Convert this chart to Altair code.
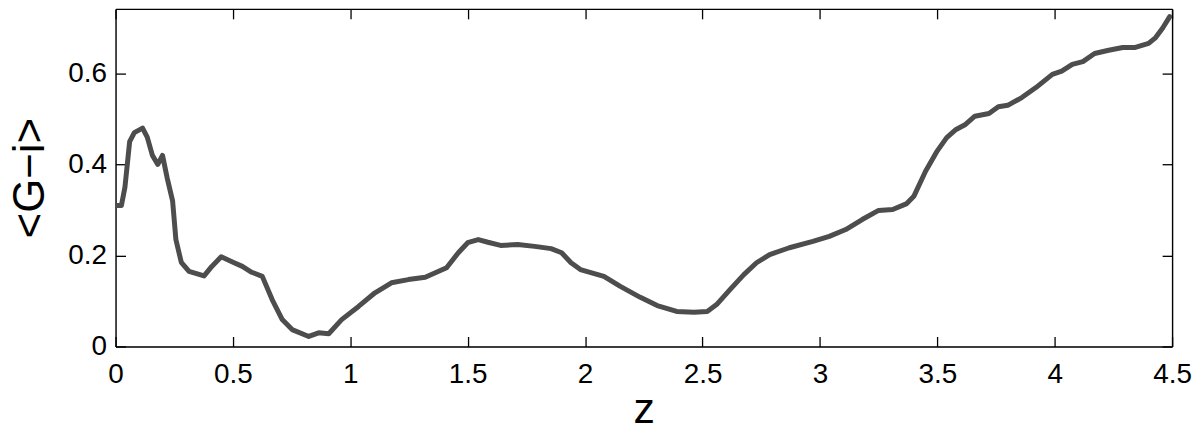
import altair as alt
import pandas as pd

z_vals = [0.00, 0.025, 0.04, 0.06, 0.08, 0.115, 0.135, 0.157, 0.18, 0.20, 0.22, 0.243, 0.257, 0.28,
          0.313, 0.377, 0.41, 0.45, 0.505, 0.54, 0.58, 0.625, 0.667, 0.71, 0.752, 0.823, 0.865, 0.908,
          0.963, 1.035, 1.105, 1.175, 1.247, 1.319, 1.41, 1.46, 1.50, 1.545, 1.586, 1.64, 1.713, 1.785,
          1.855, 1.90, 1.94, 1.98, 2.08, 2.15, 2.235, 2.307, 2.39, 2.464, 2.52, 2.56, 2.617, 2.676,
          2.73, 2.786, 2.87, 2.97, 3.04, 3.11, 3.18, 3.25, 3.31, 3.37, 3.40, 3.45, 3.50, 3.54, 3.58,
          3.62, 3.66, 3.72, 3.76, 3.80, 3.86, 3.92, 3.99, 4.03, 4.075, 4.12, 4.17, 4.23, 4.29, 4.34,
          4.40, 4.43, 4.46, 4.49]
g_vals = [0.31, 0.31, 0.35, 0.45, 0.47, 0.48, 0.46, 0.42, 0.40, 0.42, 0.37, 0.32, 0.235, 0.185,
          0.165, 0.155, 0.176, 0.197, 0.184, 0.176, 0.163, 0.154, 0.103, 0.059, 0.037, 0.022, 0.030, 0.028,
          0.059, 0.088, 0.118, 0.140, 0.147, 0.152, 0.173, 0.206, 0.228, 0.235, 0.229, 0.222, 0.224, 0.220,
          0.215, 0.206, 0.184, 0.169, 0.154, 0.132, 0.108, 0.090, 0.077, 0.075, 0.077, 0.092, 0.125, 0.158,
          0.184, 0.202, 0.217, 0.231, 0.242, 0.257, 0.279, 0.299, 0.301, 0.314, 0.330, 0.385, 0.430, 0.459, 0.477,
          0.488, 0.506, 0.512, 0.527, 0.530, 0.547, 0.569, 0.598, 0.605, 0.620, 0.626, 0.644, 0.651, 0.657, 0.657,
          0.666, 0.679, 0.700, 0.725]
x_ticks = [0, 0.5, 1, 1.5, 2, 2.5, 3, 3.5, 4, 4.5]
y_ticks = [0, 0.2, 0.4, 0.6]

W, H = 1061, 339
FONT = "Liberation Sans"
TL = 10  # inward tick length

df = pd.DataFrame({"z": z_vals, "g": g_vals})

xscale = alt.Scale(domain=[0, 4.5], nice=False, zero=False)
yscale = alt.Scale(domain=[0, 0.742], nice=False, zero=False)

# Frame edges (axis domains), no ticks
frame_opts = dict(ticks=False, tickSize=0, domain=True, domainColor="black", domainWidth=1.4,
                  grid=False, labelFlush=False)
# Inward ticks only
tick_opts = dict(ticks=True, tickSize=TL, offset=-TL, tickColor="black", tickWidth=1.3,
                 domain=False, grid=False, labels=False, title="")

xaxis = alt.Axis(
    orient="bottom", values=x_ticks, format="~g", title="z",
    labelFont=FONT, labelFontSize=28, labelColor="black", labelPadding=14,
    titleFont=FONT, titleFontSize=43, titleFontWeight="normal", titleColor="black",
    titleBaseline="alphabetic", titleY=76, **frame_opts)
yaxis = alt.Axis(
    orient="left", values=y_ticks, format="~g", title="<G\u2212i>",
    labelFont=FONT, labelFontSize=28, labelColor="black", labelPadding=9,
    titleFont=FONT, titleFontSize=44, titleFontWeight="normal", titleColor="black",
    titleAngle=270, titleBaseline="alphabetic", titleX=-72, titleY=H / 2, **frame_opts)
xaxis_top = alt.Axis(orient="top", values=x_ticks, labels=False, title="", **frame_opts)
yaxis_right = alt.Axis(orient="right", values=y_ticks, labels=False, title="", **frame_opts)

xt_bottom = alt.Axis(orient="bottom", values=x_ticks, **tick_opts)
yt_left = alt.Axis(orient="left", values=y_ticks, **tick_opts)
xt_top = alt.Axis(orient="top", values=x_ticks, **tick_opts)
yt_right = alt.Axis(orient="right", values=y_ticks, **tick_opts)

line = alt.Chart(df).mark_line(color="#4d4d4d", strokeWidth=5, strokeCap="round",
                               strokeJoin="round", clip=True).encode(
    x=alt.X("z:Q", scale=xscale, axis=xaxis),
    y=alt.Y("g:Q", scale=yscale, axis=yaxis),
)

edges_tr = alt.Chart(df).mark_line(strokeOpacity=0).encode(
    x=alt.X("z:Q", scale=xscale, axis=xaxis_top),
    y=alt.Y("g:Q", scale=yscale, axis=yaxis_right),
)

ticks_bl = alt.Chart(df).mark_line(strokeOpacity=0).encode(
    x=alt.X("z:Q", scale=xscale, axis=xt_bottom),
    y=alt.Y("g:Q", scale=yscale, axis=yt_left),
)

ticks_tr = alt.Chart(df).mark_line(strokeOpacity=0).encode(
    x=alt.X("z:Q", scale=xscale, axis=xt_top),
    y=alt.Y("g:Q", scale=yscale, axis=yt_right),
)

chart = alt.layer(line, edges_tr, ticks_bl, ticks_tr).resolve_axis(
    x="independent", y="independent"
).properties(
    width=W, height=H,
    background="white",
    autosize=alt.AutoSizeParams(type="none"),
    padding={"left": 108, "top": 0, "right": 20, "bottom": 79},
)

chart.save("out.html", embed_options={"renderer": "svg", "actions": False})
